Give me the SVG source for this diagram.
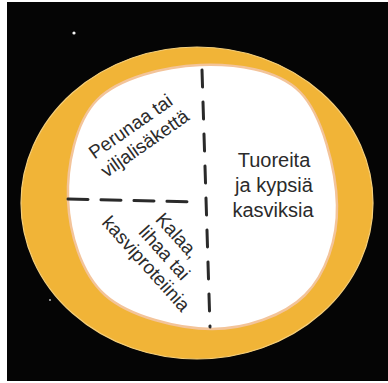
<svg xmlns="http://www.w3.org/2000/svg" width="388" height="383" viewBox="0 0 388 383">
  <style>
    .lbl { font-family: "Liberation Sans", Arial, sans-serif; fill: #2b2b2b; }
    .divider { fill: none; stroke: #2a2a2a; stroke-width: 3; stroke-linecap: round; }
  </style>
  <rect x="0" y="0" width="388" height="383" fill="#ffffff"/>
  <rect x="7" y="2" width="381" height="379" fill="#050505"/>
  <circle cx="74" cy="33" r="1.6" fill="#f4f4f4"/>
  <circle cx="50" cy="300" r="1" fill="#bbbbbb"/>

  <g id="plate">
    <ellipse cx="197" cy="203" rx="176" ry="156" fill="#F1B437" stroke="#F6CF7A" stroke-width="1.2"/>
    <path d="M200,65 C233.8,63.7 277.2,68.7 300,92 C322.8,115.3 336.2,171.2 337,205 C337.8,238.8 325.8,274.3 305,295 C284.2,315.7 245.3,329 212,329 C178.7,329 129,316.5 105,295 C81,273.5 69.3,232.5 68,200 C66.7,167.5 75,122.5 97,100 C119,77.5 166.2,66.3 200,65 Z" fill="#ffffff" stroke="#F3C49A" stroke-width="2.5"/>
  </g>

  <g id="dividers">
    <line class="divider" x1="202" y1="70" x2="210" y2="327" stroke-dasharray="17 15"/>
    <line class="divider" x1="68" y1="199" x2="197" y2="202" stroke-dasharray="20 13"/>
  </g>

  <g id="sector-vegetables">
    <text class="lbl" font-size="20" text-anchor="middle" x="274" y="167">Tuoreita</text>
    <text class="lbl" font-size="20" text-anchor="middle" x="274" y="192">ja kypsiä</text>
    <text class="lbl" font-size="20" text-anchor="middle" x="273" y="217">kasviksia</text>
  </g>

  <g id="sector-starch" transform="translate(140,140) rotate(-35)">
    <text class="lbl" font-size="19" text-anchor="middle" x="0" y="-10">Perunaa tai</text>
    <text class="lbl" font-size="19" text-anchor="middle" x="2" y="12">viljalisäkettä</text>
  </g>

  <g id="sector-protein" transform="translate(157,254) rotate(48)">
    <text class="lbl" font-size="19" text-anchor="middle" x="0" y="-21">Kalaa,</text>
    <text class="lbl" font-size="19" text-anchor="middle" x="4" y="0">lihaa tai</text>
    <text class="lbl" font-size="19" text-anchor="middle" x="0" y="21">kasviproteiinia</text>
  </g>
</svg>
